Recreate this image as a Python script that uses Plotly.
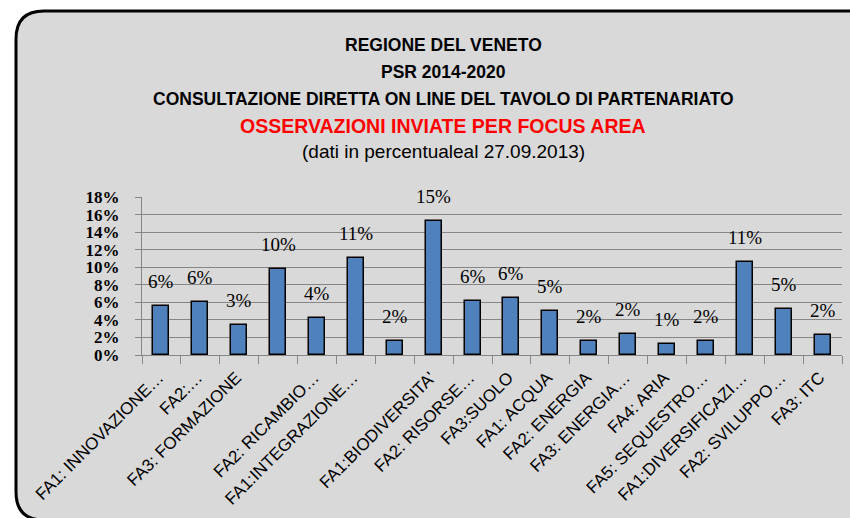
import plotly.graph_objects as go

# ---- data ----
categories = [
    "FA1: INNOVAZIONE…", "FA2:…", "FA3: FORMAZIONE", "", "FA2: RICAMBIO…",
    "FA1:INTEGRAZIONE…", "", "FA1:BIODIVERSITA'", "FA2: RISORSE…", "FA3:SUOLO",
    "FA1: ACQUA", "FA2: ENERGIA", "FA3: ENERGIA…", "FA4: ARIA", "FA5: SEQUESTRO…",
    "FA1:DIVERSIFICAZI…", "FA2: SVILUPPO…", "FA3: ITC",
]
values = [5.6, 6.0, 3.4, 9.8, 4.2, 11.1, 1.6, 15.3, 6.2, 6.45,
          4.97, 1.6, 2.4, 1.25, 1.6, 10.6, 5.2, 2.25]
labels = [f"{round(v)}%" for v in values]
y_ticks = list(range(0, 20, 2))
y_tick_text = [f"{v}%" for v in y_ticks]

title_lines = [
    ("REGIONE DEL VENETO", "black", 17.5, True),
    ("PSR 2014-2020", "black", 17.5, True),
    ("CONSULTAZIONE DIRETTA ON LINE DEL TAVOLO DI PARTENARIATO", "black", 17.5, True),
    ("OSSERVAZIONI INVIATE PER FOCUS AREA", "#ff0000", 19.5, True),
    ("(dati in percentualeal 27.09.2013)", "black", 19, False),
]

# ---- layout geometry (pixels) ----
W, H = 850, 518
L, R, T, B = 142, 842, 197, 355


def px(x, y):
    return (x - L) / (R - L), (B - y) / (B - T)


x_idx = list(range(len(values)))

fig = go.Figure()
fig.add_trace(go.Bar(
    x=x_idx, y=values, width=0.41,
    marker=dict(color="#4f81bd", line=dict(color="black", width=1.5)),
    hoverinfo="skip",
))

annotations = []
for i, (v, t) in enumerate(zip(values, labels)):
    annotations.append(dict(
        x=i, y=v, xref="x", yref="y", text=t, showarrow=False,
        yanchor="bottom", yshift=12,
        font=dict(family="Liberation Serif, Times New Roman, serif", size=19, color="black"),
    ))

title_y = [45, 72, 99, 126, 151]
for (txt, col, size, bold), yy in zip(title_lines, title_y):
    xp, yp = px(443, yy)
    annotations.append(dict(
        x=xp, y=yp, xref="paper", yref="paper", showarrow=False,
        text=f"<b>{txt}</b>" if bold else txt,
        xanchor="center", yanchor="middle",
        font=dict(family="Liberation Sans, Arial, sans-serif", size=size, color=col),
    ))

# rounded background panel
x0, y0, x1, y1, r = 16, 11, 880, 520, 28
pts = [
    ("M", [(x0 + r, y0)]),
    ("L", [(x1, y0)]),
    ("L", [(x1, y1)]),
    ("L", [(x0 + r, y1)]),
    ("Q", [(x0, y1), (x0, y1 - r)]),
    ("L", [(x0, y0 + r)]),
    ("Q", [(x0, y0), (x0 + r, y0)]),
]
path = ""
for cmd, ps in pts:
    path += cmd + " " + " ".join("{:.5f},{:.5f}".format(*px(a, b)) for a, b in ps) + " "
path += "Z"

fig.update_layout(
    width=W, height=H,
    margin=dict(l=L, r=W - R, t=T, b=H - B, pad=0, autoexpand=False),
    paper_bgcolor="white",
    plot_bgcolor="rgba(0,0,0,0)",
    showlegend=False,
    bargap=0,
    annotations=annotations,
    shapes=[dict(type="path", path=path, xref="paper", yref="paper",
                 fillcolor="#d9d9d9", line=dict(color="black", width=3), layer="below")],
)

fig.update_yaxes(
    range=[0, 18], tickmode="array", tickvals=y_ticks, ticktext=y_tick_text,
    automargin=False,
    showgrid=True, gridcolor="#868686", gridwidth=1,
    zeroline=False,
    showline=True, linecolor="#868686", linewidth=1,
    ticks="outside", ticklen=6, tickcolor="#868686",
    ticklabelstandoff=12,
    tickfont=dict(family="Liberation Serif, Times New Roman, serif", size=17, color="black", weight="bold"),
)
fig.update_xaxes(
    range=[-0.5, len(values) - 0.5],
    tickmode="array", tickvals=x_idx, ticktext=categories,
    automargin=False,
    tickangle=-45, ticks="",
    showgrid=False, zeroline=False,
    showline=True, linecolor="#868686", linewidth=1,
    minor=dict(tick0=-0.5, dtick=1, ticks="outside", ticklen=8, tickcolor="#868686", showgrid=False),
    ticklabelstandoff=5, ticklabelshift=-3,
    tickfont=dict(family="Liberation Sans, Arial, sans-serif", size=17, color="black"),
)

fig.write_html(
    "out.html",
    config={"displayModeBar": False},
    post_script="document.body.style.margin='0';document.body.style.overflow='hidden';",
)
